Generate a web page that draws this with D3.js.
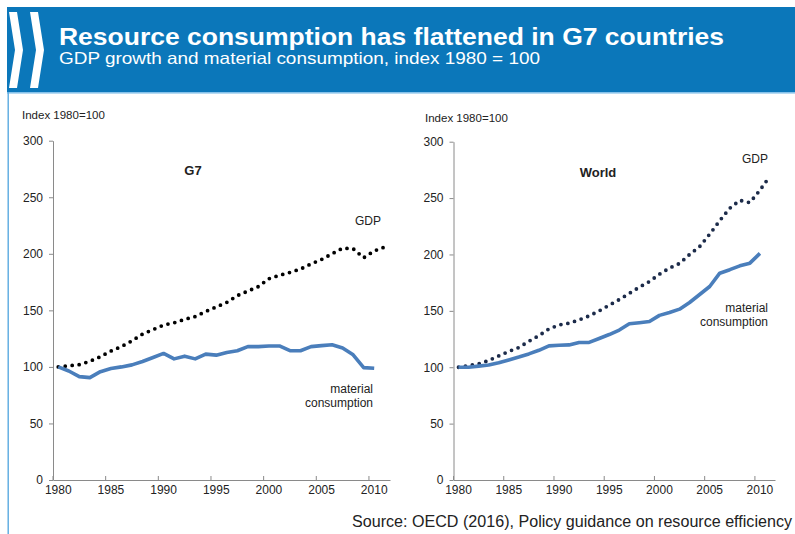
<!DOCTYPE html>
<html>
<head>
<meta charset="utf-8">
<script src="https://cdn.jsdelivr.net/npm/d3@7"></script>
<style>
  html, body { margin: 0; padding: 0; background: #fff; }
  svg { display: block; font-family: "Liberation Sans", Arial, sans-serif; }
</style>
</head>
<body>
<svg id="chart" width="795" height="534"></svg>
<script>
// ---------------- DATA ----------------
const title = "Resource consumption has flattened in G7 countries";
const subtitle = "GDP growth and material consumption, index 1980 = 100";
const source = "Source: OECD (2016), Policy guidance on resource efficiency";
const yAxisTitle = "Index 1980=100";

const years = [1980,1981,1982,1983,1984,1985,1986,1987,1988,1989,1990,1991,1992,1993,1994,1995,
               1996,1997,1998,1999,2000,2001,2002,2003,2004,2005,2006,2007,2008,2009,2010,2011];
const xTickYears = [1980,1985,1990,1995,2000,2005,2010];
const yTicks = [0,50,100,150,200,250,300];

// G7 (material 1980-2010, GDP 1980-2011)
const g7Material = [100, 96.4, 91.4, 90.5, 95.8, 98.5, 100, 101.8, 104.8, 108.3, 111.9, 107.1, 109.5, 107.1, 111.3,
                    110.4, 112.8, 114.3, 117.9, 117.9, 118.5, 118.5, 114.3, 114.3, 117.9, 118.8, 119.6, 116.7, 110.7, 99.4, 98.8];
const g7GDP = [100, 101, 102, 105, 109, 114, 118, 123, 129, 133, 137, 139, 142, 144.5, 149, 153,
               157, 163, 167, 171, 178, 181, 183.5, 186.5, 191, 195, 200, 205, 204.5, 196.5, 202.5, 206];

// World
const worldMaterial = [100, 100, 101, 102, 104, 106.5, 109, 111.8, 115, 118.9, 119.5, 119.8, 122, 122, 125.5,
                       129, 133, 138.5, 139.5, 140.5, 146, 148.5, 151.5, 157.4, 164.5, 171.6, 183.4, 186.5, 189.9, 192.3, 201];
const worldGDP = [100, 101.5, 103, 106, 110, 114, 117.5, 123, 128, 134, 137.5, 139, 142, 145.5, 150, 155,
                  160, 165.5, 171, 176, 182.5, 188, 192, 200, 207, 218, 230, 241, 248, 246, 257, 269.5];

// ---------------- DRAW ----------------
const svg = d3.select("#chart");

// banner
svg.append("rect").attr("x", 7).attr("y", 7).attr("width", 788).attr("height", 85).attr("fill", "#0b77ba");
svg.append("rect").attr("x", 7).attr("y", 92).attr("width", 788).attr("height", 1.6).attr("fill", "#86c2ea");
svg.append("rect").attr("x", 7.5).attr("y", 92).attr("width", 1.4).attr("height", 442).attr("fill", "#5aaae0");

// chevrons
const chev = [[0,12],[8,12],[14,50],[8,88],[0,88],[6,50]];
[9, 30].forEach(dx => {
  svg.append("polygon")
    .attr("points", chev.map(p => [p[0] + dx, p[1]].join(",")).join(" "))
    .attr("fill", "#fff");
});

svg.append("text").attr("x", 59).attr("y", 45)
  .attr("fill", "#fff").attr("font-weight", "bold").attr("font-size", 24)
  .attr("textLength", 665).attr("lengthAdjust", "spacingAndGlyphs")
  .text(title);
svg.append("text").attr("x", 59).attr("y", 64)
  .attr("fill", "#fff").attr("font-size", 16.5)
  .attr("textLength", 481).attr("lengthAdjust", "spacingAndGlyphs")
  .text(subtitle);

svg.append("text").attr("x", 792).attr("y", 527).attr("text-anchor", "end")
  .attr("fill", "#222").attr("font-size", 16)
  .attr("textLength", 440).attr("lengthAdjust", "spacingAndGlyphs").text(source);

function panel(cfg) {
  const g = svg.append("g");
  const x = d3.scaleBand().domain(years).range([cfg.x0, cfg.x1]).padding(0);
  const y = d3.scaleLinear().domain([0, 300]).range([480, cfg.yTop]);
  const bw = x.bandwidth();
  const cx = yr => x(yr) + bw / 2;

  // y axis
  const ya = g.append("g").attr("transform", `translate(${cfg.x0},0)`)
    .call(d3.axisLeft(y).tickValues(yTicks).tickSizeInner(4).tickSizeOuter(0).tickPadding(6));
  ya.select(".domain").attr("stroke", "#8a8a8a");
  ya.selectAll(".tick line").attr("stroke", "#8a8a8a");
  ya.selectAll("text").attr("font-size", 12).attr("fill", "#222")
    .attr("font-family", "Liberation Sans, Arial, sans-serif");

  // x axis
  const xa = g.append("g").attr("transform", "translate(0,480)")
    .call(d3.axisBottom(x).tickValues(xTickYears).tickSizeInner(-4).tickSizeOuter(0).tickPadding(5));
  xa.select(".domain").attr("stroke", "#8a8a8a");
  xa.selectAll(".tick line").attr("stroke", "#8a8a8a").attr("transform", `translate(${-bw / 2},0)`);
  xa.selectAll("text").attr("font-size", 12).attr("fill", "#222")
    .attr("font-family", "Liberation Sans, Arial, sans-serif");

  g.append("text").attr("x", cfg.idxX).attr("y", cfg.idxY).attr("font-size", 11.5)
    .attr("fill", "#222").text(yAxisTitle);

  const line = d3.line().x((d, i) => cx(years[i])).y(d => y(d));

  g.append("path").datum(cfg.gdp).attr("d", line).attr("fill", "none")
    .attr("stroke", cfg.gdpColor).attr("stroke-width", 3.8)
    .attr("stroke-linecap", "round").attr("stroke-dasharray", "0 7");
  g.append("path").datum(cfg.mat).attr("d", line).attr("fill", "none")
    .attr("stroke", "#4a7ebb").attr("stroke-width", 3.6).attr("stroke-linejoin", "round");

  g.append("text").attr("x", cfg.nameX).attr("y", cfg.nameY).attr("text-anchor", "middle")
    .attr("font-weight", "bold").attr("font-size", 13).attr("fill", "#222").text(cfg.name);
  g.append("text").attr("x", cfg.gdpLX).attr("y", cfg.gdpLY).attr("text-anchor", "middle")
    .attr("font-size", 12).attr("fill", "#222").text("GDP");
  g.append("text").attr("x", cfg.matLX).attr("y", cfg.matLY).attr("text-anchor", "end")
    .attr("font-size", 12).attr("fill", "#222").text("material");
  g.append("text").attr("x", cfg.matLX).attr("y", cfg.matLY + 14).attr("text-anchor", "end")
    .attr("font-size", 12).attr("fill", "#222").text("consumption");
}

panel({ x0: 53, x1: 390, yTop: 140.7, gdp: g7GDP, mat: g7Material, gdpColor: "#000",
        idxX: 22, idxY: 119, name: "G7", nameX: 193, nameY: 175,
        gdpLX: 368, gdpLY: 225, matLX: 373, matLY: 393 });
panel({ x0: 453.5, x1: 775, yTop: 141.7, gdp: worldGDP, mat: worldMaterial, gdpColor: "#1c2b4a",
        idxX: 425, idxY: 122, name: "World", nameX: 598, nameY: 177,
        gdpLX: 755, gdpLY: 163, matLX: 768, matLY: 312 });
</script>
</body>
</html>
